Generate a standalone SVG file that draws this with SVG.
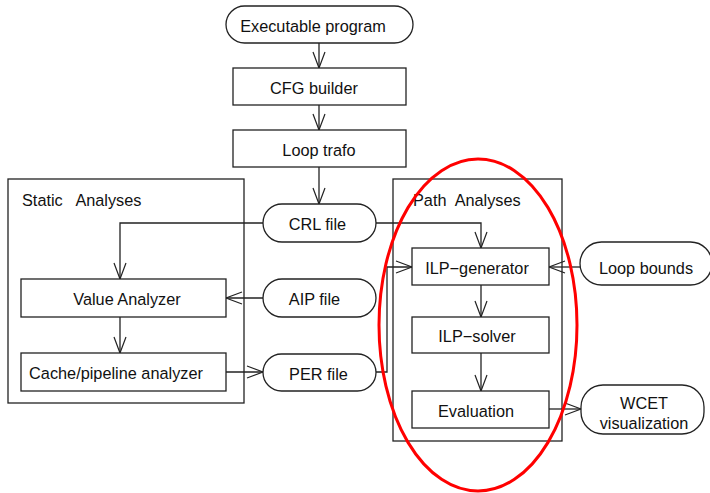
<svg xmlns="http://www.w3.org/2000/svg" width="710" height="493" viewBox="0 0 710 493">
  <style>
    .box { fill: #ffffff; stroke: #222222; stroke-width: 1.3; }
    .group { fill: none; stroke: #222222; stroke-width: 1.3; }
    .lbl { font-family: "Liberation Sans", Arial, sans-serif; font-size: 16.3px; fill: #111111; text-anchor: middle; dominant-baseline: central; }
    .title { font-family: "Liberation Sans", Arial, sans-serif; font-size: 16.3px; fill: #111111; dominant-baseline: central; white-space: pre; }
    .edge { fill: none; stroke: #222222; stroke-width: 1.3; marker-end: url(#vhead); }
    .mark { fill: none; stroke: #ff0000; stroke-width: 3; }
  </style>
  <defs>
    <marker id="vhead" markerUnits="userSpaceOnUse" markerWidth="18" markerHeight="16" viewBox="0 0 18 16" refX="17" refY="8" orient="auto">
      <polyline points="1,2 17,8 1,14" fill="none" stroke="#222222" stroke-width="1.2"/>
    </marker>
  </defs>
  <rect width="710" height="493" fill="#ffffff"/>

  <!-- analysis group frames -->
  <g id="static-analyses">
    <rect class="group" x="8" y="179" width="236" height="224"/>
    <text class="title" x="22" y="200">Static   Analyses</text>
  </g>
  <g id="path-analyses">
    <rect class="group" x="393" y="179" width="169" height="262"/>
    <text class="title" x="413" y="200">Path  Analyses</text>
  </g>

  <!-- connectors -->
  <g id="connectors">
    <line class="edge" x1="319" y1="43" x2="319" y2="68"/>
    <line class="edge" x1="319" y1="105" x2="319" y2="130"/>
    <line class="edge" x1="319" y1="167" x2="319" y2="204"/>
    <polyline class="edge" points="263,223 120,223 120,279"/>
    <line class="edge" x1="120" y1="317" x2="120" y2="353"/>
    <line class="edge" x1="263" y1="298" x2="226" y2="298"/>
    <line class="edge" x1="226" y1="372" x2="263" y2="372"/>
    <polyline class="edge" points="376,223 481,223 481,248"/>
    <polyline class="edge" points="376,372 387,372 387,267 412,267"/>
    <line class="edge" x1="580" y1="267" x2="549" y2="267"/>
    <line class="edge" x1="481" y1="285" x2="481" y2="317"/>
    <line class="edge" x1="481" y1="353" x2="481" y2="391"/>
    <line class="edge" x1="549" y1="409" x2="581" y2="409"/>
  </g>

  <g id="executable-program">
    <rect class="box" x="226" y="6" width="187" height="37" rx="18.5"/>
    <text class="lbl" x="313" y="25.5">Executable program</text>
  </g>
  <g id="cfg-builder">
    <rect class="box" x="233" y="68" width="173" height="37"/>
    <text class="lbl" x="314" y="87.5">CFG builder</text>
  </g>
  <g id="loop-trafo">
    <rect class="box" x="233" y="130" width="173" height="37"/>
    <text class="lbl" x="319" y="149.5">Loop trafo</text>
  </g>
  <g id="crl-file">
    <rect class="box" x="263" y="204" width="113" height="38" rx="19"/>
    <text class="lbl" x="317.5" y="224">CRL file</text>
  </g>
  <g id="aip-file">
    <rect class="box" x="263" y="279" width="113" height="38" rx="19"/>
    <text class="lbl" x="314.5" y="299">AIP file</text>
  </g>
  <g id="per-file">
    <rect class="box" x="263" y="354" width="113" height="37" rx="18.5"/>
    <text class="lbl" x="318.5" y="373.5">PER file</text>
  </g>
  <g id="value-analyzer">
    <rect class="box" x="21" y="279" width="205" height="38"/>
    <text class="lbl" x="127" y="299">Value Analyzer</text>
  </g>
  <g id="cache-pipeline-analyzer">
    <rect class="box" x="21" y="353" width="205" height="38"/>
    <text class="lbl" x="116" y="373">Cache/pipeline analyzer</text>
  </g>
  <g id="ilp-generator">
    <rect class="box" x="412" y="248" width="137" height="37"/>
    <text class="lbl" x="477" y="267.5">ILP−generator</text>
  </g>
  <g id="ilp-solver">
    <rect class="box" x="412" y="317" width="137" height="36"/>
    <text class="lbl" x="477" y="336">ILP−solver</text>
  </g>
  <g id="evaluation">
    <rect class="box" x="412" y="391" width="137" height="37"/>
    <text class="lbl" x="476" y="410.5">Evaluation</text>
  </g>
  <g id="loop-bounds">
    <rect class="box" x="580" y="242" width="132" height="43" rx="21.5"/>
    <text class="lbl" x="646" y="268">Loop bounds</text>
  </g>
  <g id="wcet-visualization">
    <rect class="box" x="581" y="385" width="123" height="49" rx="22"/>
    <text class="lbl" x="644" y="403">WCET</text>
    <text class="lbl" x="644" y="423">visualization</text>
  </g>

  <!-- highlight around the path analysis stage -->
  <ellipse class="mark" cx="478" cy="325" rx="99" ry="166"/>
</svg>
